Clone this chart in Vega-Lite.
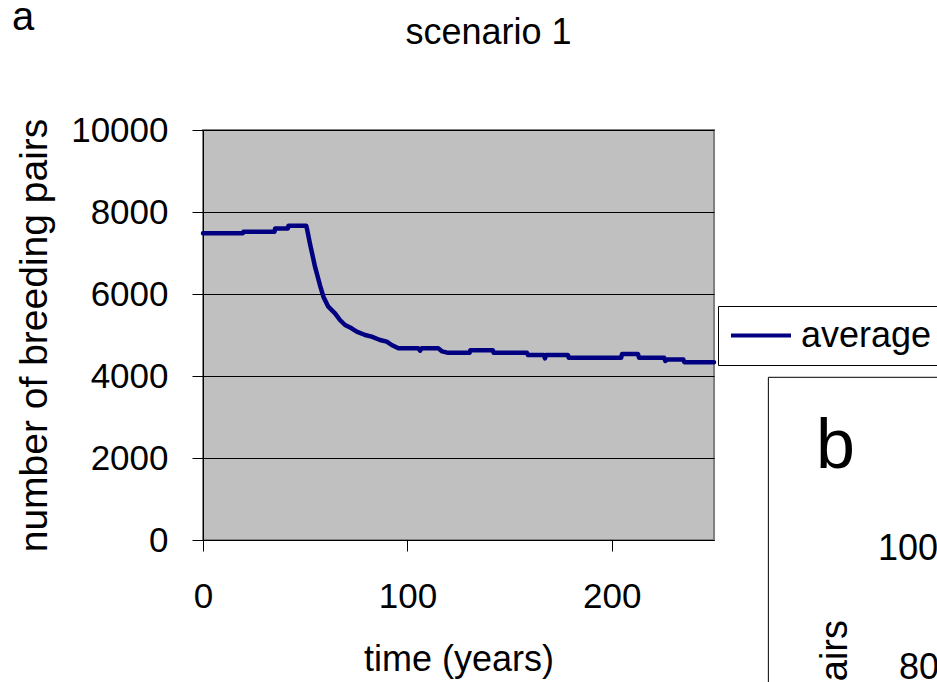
{
  "$schema": "https://vega.github.io/schema/vega-lite/v6.json",
  "width": 511,
  "height": 410,
  "autosize": {"type": "none"},
  "padding": {"left": 203, "top": 130, "right": 223, "bottom": 142},
  "background": "white",
  "config": {
    "font": "Liberation Sans",
    "view": {"fill": "#C0C0C0", "stroke": "#808080", "strokeWidth": 2},
    "axis": {
      "labelFont": "Liberation Sans", "titleFont": "Liberation Sans",
      "labelColor": "#000000", "titleColor": "#000000",
      "domainColor": "#000000", "tickColor": "#000000",
      "titleFontWeight": "normal"
    }
  },
  "title": {
    "text": "scenario 1",
    "font": "Liberation Sans", "fontSize": 36, "fontWeight": "normal", "color": "#000000",
    "anchor": "middle", "frame": "group", "dx": 30, "baseline": "alphabetic", "offset": -82
  },
  "data": {
    "values": [
      {"t": 0, "pairs": 7480, "series": "average"},
      {"t": 19.5, "pairs": 7480, "series": "average"},
      {"t": 19.8, "pairs": 7520, "series": "average"},
      {"t": 35, "pairs": 7520, "series": "average"},
      {"t": 35.3, "pairs": 7600, "series": "average"},
      {"t": 41.5, "pairs": 7600, "series": "average"},
      {"t": 41.8, "pairs": 7665, "series": "average"},
      {"t": 50.5, "pairs": 7665, "series": "average"},
      {"t": 51, "pairs": 7560, "series": "average"},
      {"t": 52.3, "pairs": 7236, "series": "average"},
      {"t": 54.8, "pairs": 6666, "series": "average"},
      {"t": 57.2, "pairs": 6219, "series": "average"},
      {"t": 58.9, "pairs": 5934, "series": "average"},
      {"t": 61.3, "pairs": 5690, "series": "average"},
      {"t": 64.6, "pairs": 5529, "series": "average"},
      {"t": 67, "pairs": 5366, "series": "average"},
      {"t": 69.5, "pairs": 5244, "series": "average"},
      {"t": 72.7, "pairs": 5163, "series": "average"},
      {"t": 75.2, "pairs": 5081, "series": "average"},
      {"t": 79.3, "pairs": 5000, "series": "average"},
      {"t": 82.5, "pairs": 4959, "series": "average"},
      {"t": 86.6, "pairs": 4878, "series": "average"},
      {"t": 89.9, "pairs": 4837, "series": "average"},
      {"t": 92.3, "pairs": 4756, "series": "average"},
      {"t": 95.6, "pairs": 4675, "series": "average"},
      {"t": 105.3, "pairs": 4675, "series": "average"},
      {"t": 106.2, "pairs": 4618, "series": "average"},
      {"t": 107, "pairs": 4675, "series": "average"},
      {"t": 115.1, "pairs": 4675, "series": "average"},
      {"t": 117, "pairs": 4600, "series": "average"},
      {"t": 120, "pairs": 4565, "series": "average"},
      {"t": 130.4, "pairs": 4565, "series": "average"},
      {"t": 130.8, "pairs": 4630, "series": "average"},
      {"t": 141.8, "pairs": 4630, "series": "average"},
      {"t": 142.2, "pairs": 4565, "series": "average"},
      {"t": 158.5, "pairs": 4565, "series": "average"},
      {"t": 159, "pairs": 4512, "series": "average"},
      {"t": 166.8, "pairs": 4512, "series": "average"},
      {"t": 167.3, "pairs": 4430, "series": "average"},
      {"t": 167.8, "pairs": 4512, "series": "average"},
      {"t": 178.5, "pairs": 4512, "series": "average"},
      {"t": 178.9, "pairs": 4447, "series": "average"},
      {"t": 204.6, "pairs": 4447, "series": "average"},
      {"t": 205, "pairs": 4537, "series": "average"},
      {"t": 212.8, "pairs": 4537, "series": "average"},
      {"t": 213.3, "pairs": 4447, "series": "average"},
      {"t": 225.6, "pairs": 4447, "series": "average"},
      {"t": 226.2, "pairs": 4370, "series": "average"},
      {"t": 227, "pairs": 4400, "series": "average"},
      {"t": 235, "pairs": 4400, "series": "average"},
      {"t": 235.5, "pairs": 4334, "series": "average"},
      {"t": 250, "pairs": 4334, "series": "average"}
    ]
  },
  "layer": [
    {
      "mark": {"type": "line", "strokeWidth": 4.5, "strokeJoin": "round", "strokeCap": "round"},
      "encoding": {
        "x": {
          "field": "t", "type": "quantitative",
          "scale": {"domain": [0, 250], "nice": false, "zero": false},
          "axis": {
            "title": "time (years)", "values": [0, 100, 200],
            "labelFontSize": 35, "titleFontSize": 36,
            "tickSize": 11, "labelPadding": 28, "titlePadding": 28,
            "grid": false, "labelFlush": false
          }
        },
        "y": {
          "field": "pairs", "type": "quantitative",
          "scale": {"domain": [0, 10000], "nice": false},
          "axis": {
            "title": "number of breeding pairs", "values": [0, 2000, 4000, 6000, 8000, 10000],
            "format": "d",
            "labelFontSize": 35, "titleFontSize": 39,
            "tickSize": 11, "labelPadding": 24, "titlePadding": 16,
            "grid": true, "gridColor": "#000000", "gridWidth": 1, "gridOpacity": 1,
            "labelFlush": false
          }
        },
        "color": {
          "field": "series", "type": "nominal",
          "scale": {"range": ["#000080"]},
          "legend": {
            "title": null, "orient": "none", "legendX": 515, "legendY": 176,
            "symbolType": "stroke", "symbolSize": 3600, "symbolStrokeWidth": 4,
            "labelFontSize": 36, "labelFont": "Liberation Sans", "labelColor": "#000000",
            "labelOffset": 8, "padding": 11, "clipHeight": 37,
            "strokeColor": "#000000", "fillColor": "#FFFFFF",
            "cornerRadius": 0
          }
        }
      }
    },
    {
      "data": {"values": [{}]},
      "mark": {"type": "text", "text": "a", "fontSize": 40, "align": "left", "baseline": "alphabetic", "color": "#000000"},
      "encoding": {
        "x": {"datum": -93.4, "type": "quantitative"},
        "y": {"datum": 12439, "type": "quantitative"}
      }
    },
    {
      "data": {"values": [{}]},
      "mark": {"type": "rect", "fillOpacity": 0, "fill": "#FFFFFF", "stroke": "#000000", "strokeWidth": 1},
      "encoding": {
        "x": {"datum": 276.6, "type": "quantitative"},
        "x2": {"datum": 400},
        "y": {"datum": 3968, "type": "quantitative"},
        "y2": {"datum": -20000}
      }
    },
    {
      "data": {"values": [{}]},
      "mark": {"type": "text", "text": "b", "fontSize": 70, "align": "left", "baseline": "alphabetic", "color": "#000000"},
      "encoding": {
        "x": {"datum": 299.9, "type": "quantitative"},
        "y": {"datum": 1756, "type": "quantitative"}
      }
    },
    {
      "data": {"values": [{}]},
      "mark": {"type": "text", "text": "10000", "fontSize": 36, "align": "left", "baseline": "alphabetic", "color": "#000000"},
      "encoding": {
        "x": {"datum": 330.2, "type": "quantitative"},
        "y": {"datum": -488, "type": "quantitative"}
      }
    },
    {
      "data": {"values": [{}]},
      "mark": {"type": "text", "text": "8000", "fontSize": 36, "align": "left", "baseline": "alphabetic", "color": "#000000"},
      "encoding": {
        "x": {"datum": 340.5, "type": "quantitative"},
        "y": {"datum": -3390, "type": "quantitative"}
      }
    },
    {
      "data": {"values": [{}]},
      "mark": {"type": "text", "text": "number of breeding pairs", "fontSize": 38, "angle": 270, "align": "right", "baseline": "alphabetic", "color": "#000000"},
      "encoding": {
        "x": {"datum": 315.1, "type": "quantitative"},
        "y": {"datum": -1951, "type": "quantitative"}
      }
    }
  ]
}
